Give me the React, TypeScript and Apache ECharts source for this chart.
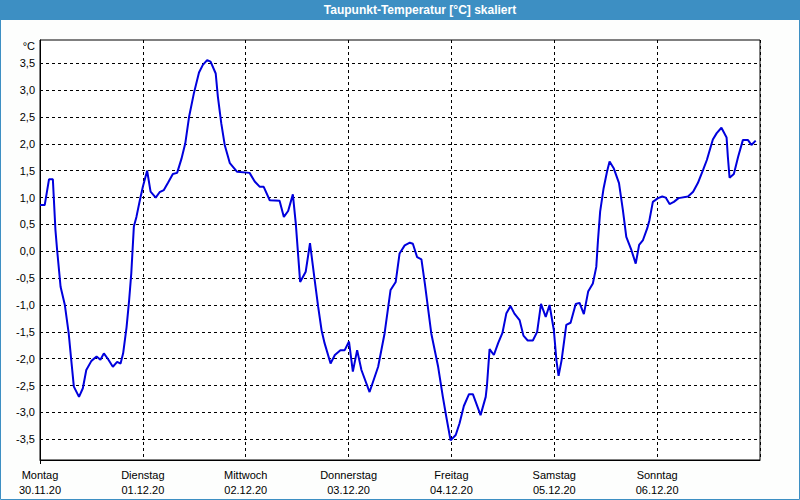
import React, { useEffect, useRef } from "react";
import * as echarts from "echarts";

const weekdays = ["Montag", "Dienstag", "Mittwoch", "Donnerstag", "Freitag", "Samstag", "Sonntag", ""];
const dates = ["30.11.20", "01.12.20", "02.12.20", "03.12.20", "04.12.20", "05.12.20", "06.12.20", ""];

// hours since Monday 30.11.20 00:00
const hours = [
  0, 1.1, 2.1, 3.0, 3.6, 4.0, 4.8, 5.8, 6.7, 7.3, 7.9, 9.1, 10, 10.8, 12, 13.2, 14.1, 14.9, 15.9, 17, 18, 18.8,
  19.4, 20.2, 20.8, 21.3, 21.9, 22.5, 23.3, 24, 25, 25.8, 27, 27.9, 28.9, 29.9, 31, 32, 33, 33.9, 34.8, 35.9,
  37.1, 38, 39, 39.8, 41, 41.5, 42.3, 43.1, 44.3, 46, 48.9, 50.1, 51.3, 52.2, 53.6, 55.9, 56.9, 57.9, 59, 59.7,
  60.7, 62, 63.0, 64.1, 64.9, 65.7, 66.4, 67.8, 68.8, 70.1, 71.1, 72.1, 72.5, 73, 74, 75, 76.9, 78.9, 80.4,
  81.8, 83, 83.9, 85.1, 86.3, 87, 88, 89, 89.8, 91.3, 92.9, 94, 94.8, 95.8, 97, 97.9, 98.9, 100.1, 101, 102.8,
  104, 104.3, 104.9, 105.9, 106.9, 107.9, 108.8, 109.8, 110.7, 111.9, 112.8, 113.8, 115, 116, 116.9, 118,
  118.9, 119.9, 120.5, 121, 121.7, 122.8, 123.8, 125, 125.9, 126.9, 127.9, 129, 129.8, 130.2, 130.7, 131.5,
  132.3, 132.9, 133.9, 135.1, 136, 136.8, 138, 139, 139.8, 140.7, 141.7, 142.2, 143, 144.2, 145.2, 146, 146.9,
  147.9, 149, 151.2, 152.4, 153.5, 154.7, 155.6, 157, 157.9, 159, 160.2, 160.5, 160.9, 161.9, 162.9, 164,
  165.2, 166, 167,
];
const values = [
  0.86, 0.86, 1.34, 1.34, 0.4, 0.02, -0.66, -1.0, -1.53, -2.03, -2.52, -2.71, -2.55, -2.21, -2.04, -1.96, -2.02,
  -1.9, -2.01, -2.15, -2.06, -2.09, -1.9, -1.41, -0.91, -0.41, 0.46, 0.64, 0.95, 1.2, 1.5, 1.11, 1.0, 1.1, 1.14,
  1.28, 1.44, 1.46, 1.72, 2.01, 2.51, 2.94, 3.33, 3.47, 3.56, 3.53, 3.31, 2.88, 2.38, 1.98, 1.64, 1.48, 1.46,
  1.3, 1.2, 1.2, 0.95, 0.94, 0.64, 0.75, 1.06, 0.5, -0.57, -0.38, 0.15, -0.54, -1.03, -1.47, -1.71, -2.09,
  -1.93, -1.84, -1.84, -1.68, -1.93, -2.24, -1.84, -2.21, -2.62, -2.15, -1.53, -0.72, -0.57, -0.04, 0.11,
  0.16, 0.14, -0.11, -0.15, -0.6, -1.53, -2.15, -2.71, -3.08, -3.52, -3.42, -3.2, -2.88, -2.66, -2.66, -3.05,
  -2.71, -2.49, -1.82, -1.93, -1.71, -1.52, -1.16, -1.02, -1.16, -1.28, -1.57, -1.66, -1.66, -1.5, -0.98,
  -1.22, -1.0, -1.47, -2.03, -2.32, -2.03, -1.37, -1.33, -0.98, -0.96, -1.17, -0.75, -0.6, -0.29, 0.21, 0.74,
  1.17, 1.48, 1.67, 1.54, 1.27, 0.77, 0.27, 0.02, -0.23, 0.12, 0.21, 0.43, 0.58, 0.92, 0.99, 1.02, 1.0, 0.88,
  0.92, 0.99, 1.02, 1.11, 1.27, 1.51, 1.7, 2.08, 2.2, 2.3, 2.12, 1.76, 1.37, 1.44, 1.76, 2.07, 2.07, 1.98,
  2.06,
];

const FONT = "Liberation Sans";

export default function App() {
  const ref = useRef<HTMLDivElement>(null);
  useEffect(() => {
    if (!ref.current) return;
    const chart = echarts.init(ref.current, undefined, { renderer: "svg" });
    const data = hours.map((h, i) => [h, values[i]]);
    const fmtY = (v: number) => v.toFixed(1).replace(".", ",");
    chart.setOption({
      animation: false,
      backgroundColor: "#fdfefd",
      grid: [
        { left: 40, top: 40, width: 720, height: 420, show: true, borderColor: "#000", borderWidth: 1, backgroundColor: "#ffffff" },
        { left: 40, top: 63.3, width: 720, height: 376 },
      ],
      xAxis: [
        {
          type: "value",
          gridIndex: 0,
          min: 0,
          max: 168,
          interval: 24,
          axisLine: { show: true, lineStyle: { color: "#000", width: 1 } },
          axisTick: { show: false },
          splitLine: { show: true, lineStyle: { color: "#000", type: [3, 3], width: 1 } },
          axisLabel: {
            showMaxLabel: false,
            margin: 7,
            color: "#000",
            fontFamily: FONT,
            fontSize: 11,
            lineHeight: 15,
            formatter: (v: number) => {
              const i = Math.round(v / 24);
              return weekdays[i] + "\n" + dates[i];
            },
          },
        },
        { type: "value", gridIndex: 1, min: 0, max: 168, show: false },
      ],
      yAxis: [
        {
          type: "value",
          gridIndex: 0,
          min: 0,
          max: 1,
          axisLine: { show: true, lineStyle: { color: "#000" } },
          axisTick: { show: false },
          axisLabel: { show: false },
          splitLine: { show: false },
        },
        {
          type: "value",
          gridIndex: 1,
          min: -3.5,
          max: 3.5,
          interval: 0.5,
          axisLine: { show: false },
          axisTick: { show: false },
          splitLine: { show: true, lineStyle: { color: "#000", type: [3, 3], width: 1 } },
          axisLabel: { margin: 5, color: "#000", fontFamily: FONT, fontSize: 11, formatter: fmtY },
        },
      ],
      series: [
        {
          type: "line",
          xAxisIndex: 1,
          yAxisIndex: 1,
          data,
          clip: false,
          showSymbol: false,
          symbol: "none",
          lineStyle: { color: "#0000dd", width: 2 },
          z: 5,
        },
      ],
      graphic: [
        { type: "rect", left: 0, top: 0, shape: { width: 800, height: 20 }, style: { fill: "#3d8fc3" }, z: 10 },
        {
          type: "text",
          x: 420,
          y: 10,
          style: {
            text: "Taupunkt-Temperatur [°C] skaliert",
            fill: "#ffffff",
            font: `bold 12px "${FONT}"`,
            textAlign: "center",
            textVerticalAlign: "middle",
          },
          z: 11,
        },
        {
          type: "rect",
          shape: { x: 0.5, y: 0.5, width: 799, height: 499 },
          style: { fill: "none", stroke: "#3d8fc3", lineWidth: 1 },
          z: 12,
        },
        {
          type: "line",
          shape: { x1: 40.5, y1: 460, x2: 40.5, y2: 464 },
          style: { stroke: "#000", lineWidth: 1 },
          z: 11,
        },
        {
          type: "text",
          x: 35,
          y: 46,
          style: { text: "°C", fill: "#000", font: `11px "${FONT}"`, textAlign: "right", textVerticalAlign: "middle" },
          z: 11,
        },
      ],
    });
    return () => chart.dispose();
  }, []);
  return <div ref={ref} style={{ position: "fixed", left: 0, top: 0, width: 800, height: 500 }} />;
}
